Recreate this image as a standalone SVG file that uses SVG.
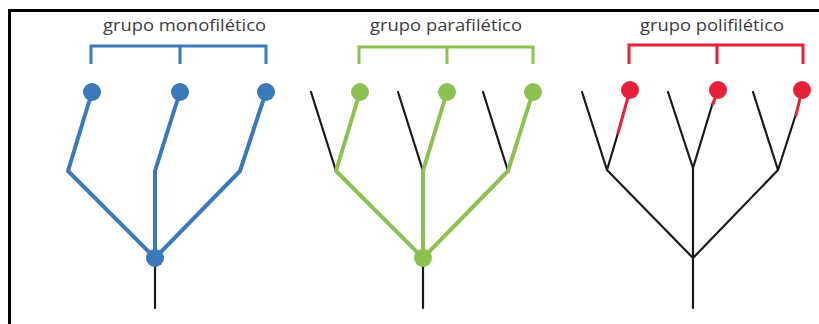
<svg xmlns="http://www.w3.org/2000/svg" width="819" height="324" viewBox="0 0 819 324">
  <style>
    .title { font-family: "Open Sans", "Liberation Sans", Arial, sans-serif; font-size: 16.5px; fill: #3c3c3c; }
    .edge { fill: none; stroke-linecap: round; stroke-linejoin: round; }
    .black { stroke: #1a1a1a; stroke-width: 2.2; }
    .blue { stroke: #3b79b9; stroke-width: 4; }
    .green { stroke: #8cc152; stroke-width: 4; }
    .red { stroke: #e8203c; stroke-width: 3; }
    .bracket { fill: none; stroke-width: 3; }
    .dot-blue { fill: #3b79b9; }
    .dot-green { fill: #8cc152; }
    .dot-red { fill: #e8203c; }
  </style>

  <!-- frame -->
  <rect x="9.5" y="10.5" width="830" height="330" fill="#ffffff" stroke="#000000" stroke-width="3"/>

  <!-- monophyletic group -->
  <g id="mono">
    <text class="title" x="103" y="31" textLength="163" lengthAdjust="spacingAndGlyphs">grupo monofilético</text>
    <path class="bracket" stroke="#3b79b9" d="M91 64 V46 H266 V64 M180 46 V64"/>
    <g id="mono-edges">
      <path class="edge black" d="M155 258 V308"/>
      <path class="edge blue" d="M92 92 L68 171 L155 258 M180 92 L155 171 V258 M266 92 L240 171 L155 258"/>
    </g>
    <g id="mono-nodes">
      <circle class="dot-blue" cx="92" cy="92" r="9"/>
      <circle class="dot-blue" cx="180" cy="92" r="9"/>
      <circle class="dot-blue" cx="266" cy="92" r="9"/>
      <circle class="dot-blue" cx="155" cy="258" r="9"/>
    </g>
  </g>

  <!-- paraphyletic group -->
  <g id="para">
    <text class="title" x="370" y="31" textLength="152" lengthAdjust="spacingAndGlyphs">grupo parafilético</text>
    <path class="bracket" stroke="#8cc152" d="M359 64 V47 H533 V64 M447 47 V64"/>
    <g id="para-edges">
      <path class="edge black" d="M423 258 V308 M311 92 L336 171 M398 92 L423 171 M483 92 L508 171"/>
      <path class="edge green" d="M360 92 L336 171 L423 258 M447 92 L423 171 V258 M533 92 L508 171 L423 258"/>
    </g>
    <g id="para-nodes">
      <circle class="dot-green" cx="360" cy="92" r="9"/>
      <circle class="dot-green" cx="447" cy="92" r="9"/>
      <circle class="dot-green" cx="533" cy="92" r="9"/>
      <circle class="dot-green" cx="423" cy="258" r="9"/>
    </g>
  </g>

  <!-- polyphyletic group -->
  <g id="poli">
    <text class="title" x="640" y="31" textLength="144" lengthAdjust="spacingAndGlyphs">grupo polifilético</text>
    <path class="bracket" stroke="#e8203c" d="M629 64 V45 H803 V64 M717 45 V64"/>
    <g id="poli-edges">
      <path class="edge black" d="M693 258 V308 M607 170 L693 258 M693 168 V258 M778 170 L693 258 M582 92 L607 170 L618 133 M668 92 L693 168 L713 102 M753 92 L778 170 L796 114"/>
      <path class="edge red" d="M630 90 L618 133 M718 90 L713 104 M802 90 L796 115"/>
    </g>
    <g id="poli-nodes">
      <circle class="dot-red" cx="630" cy="90" r="9"/>
      <circle class="dot-red" cx="718" cy="90" r="9"/>
      <circle class="dot-red" cx="802" cy="90" r="9"/>
    </g>
  </g>
</svg>
